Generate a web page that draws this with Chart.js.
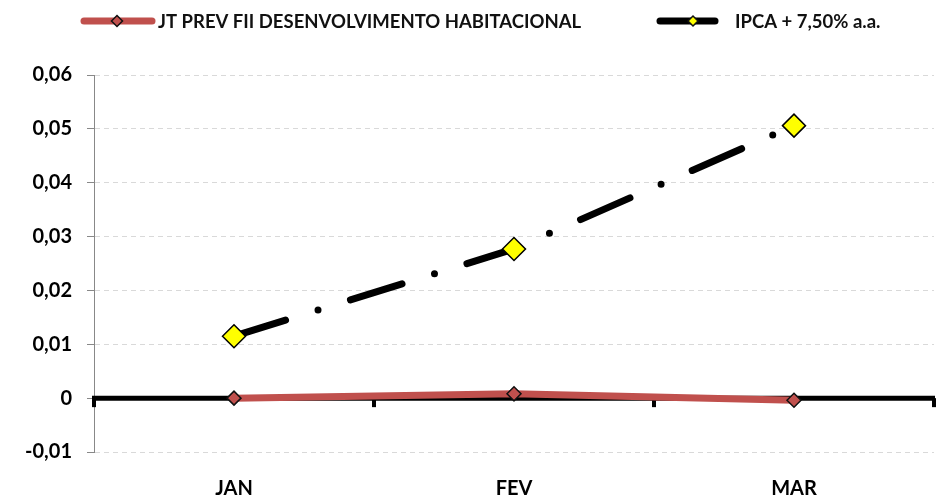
<!DOCTYPE html>
<html>
<head>
<meta charset="utf-8">
<script src="https://cdn.jsdelivr.net/npm/chart.js@4.4.0/dist/chart.umd.min.js"></script>
<style>
  html, body { margin: 0; padding: 0; background: #fff; }
  #wrap { width: 942px; height: 498px; }
</style>
</head>
<body>
<div id="wrap"><canvas id="grafico" width="942" height="498"></canvas></div>
<script>
// Rentabilidade mensal do fundo x benchmark
const meses = ['JAN', 'FEV', 'MAR'];
const nomeFundo = 'JT PREV FII DESENVOLVIMENTO HABITACIONAL';
const nomeIndice = 'IPCA + 7,50% a.a.';
const rentFundo = [0.0000, 0.0008, -0.0004];
const rentIndice = [0.0115, 0.0277, 0.0506];
const rotulosY = ['-0,01', '0', '0,01', '0,02', '0,03', '0,04', '0,05', '0,06'];

const fonte = 'Lato';
const corFundo = '#C0504D';

// Desenha um losango centrado em (x, y)
function losango(ctx, x, y, r, fill) {
    ctx.beginPath();
    ctx.moveTo(x - r, y);
    ctx.lineTo(x, y - r);
    ctx.lineTo(x + r, y);
    ctx.lineTo(x, y + r);
    ctx.closePath();
    ctx.fillStyle = fill;
    ctx.fill();
    ctx.lineWidth = 1.5;
    ctx.strokeStyle = '#111';
    ctx.stroke();
}

// Traço da legenda com pontas arredondadas
function traco(ctx, x1, x2, y, cor) {
    ctx.lineCap = 'round';
    ctx.lineWidth = 7;
    ctx.strokeStyle = cor;
    ctx.beginPath();
    ctx.moveTo(x1, y);
    ctx.lineTo(x2, y);
    ctx.stroke();
}

// Linha preta do eixo no zero, com marcas entre os meses
const eixoZero = {
    id: 'eixoZero',
    beforeDatasetsDraw(chart) {
        const { ctx, chartArea, scales } = chart;
        const y0 = scales.y.getPixelForValue(0);
        const passo = chartArea.width / meses.length;
        ctx.save();
        ctx.strokeStyle = '#000';
        ctx.lineWidth = 5;
        ctx.beginPath();
        ctx.moveTo(chartArea.left - 2, y0);
        ctx.lineTo(chartArea.right + 1, y0);
        ctx.stroke();
        ctx.lineWidth = 4;
        for (let i = 0; i <= meses.length; i++) {
            const x = chartArea.left + i * passo;
            ctx.beginPath();
            ctx.moveTo(x, y0);
            ctx.lineTo(x, y0 + 9);
            ctx.stroke();
        }
        ctx.restore();
    }
};

// Legenda no topo: linha + marcador + nome
const legenda = {
    id: 'legenda',
    afterDraw(chart) {
        const ctx = chart.ctx;
        const y = 21;
        ctx.save();

        traco(ctx, 84, 152, y, corFundo);
        losango(ctx, 117, y, 5.5, corFundo);

        traco(ctx, 660, 715, y, '#000');
        losango(ctx, 693, y, 5, '#FFFF00');

        ctx.fillStyle = '#111';
        ctx.font = 'bold 18.5px ' + fonte;
        ctx.textBaseline = 'middle';
        ctx.fillText(nomeFundo, 158, y + 1);
        ctx.fillText(nomeIndice, 735, y + 1);
        ctx.restore();
    }
};

const ctx = document.getElementById('grafico').getContext('2d');

new Chart(ctx, {
    type: 'line',
    data: {
        labels: meses,
        datasets: [
            {
                label: nomeFundo,
                data: rentFundo,
                borderColor: corFundo,
                borderWidth: 7,
                pointStyle: 'rectRot',
                pointRadius: 7,
                pointBackgroundColor: corFundo,
                pointBorderColor: '#111',
                pointBorderWidth: 1.5,
                tension: 0
            },
            {
                label: nomeIndice,
                data: rentIndice,
                borderColor: '#000',
                borderWidth: 7,
                borderDash: [54, 34, 0, 34],
                borderCapStyle: 'round',
                pointStyle: 'rectRot',
                pointRadius: 11.5,
                pointBackgroundColor: '#FFFF00',
                pointBorderColor: '#000',
                pointBorderWidth: 1.5,
                tension: 0
            }
        ]
    },
    options: {
        responsive: false,
        animation: false,
        devicePixelRatio: 1,
        layout: {
            autoPadding: false,
            padding: { top: 75, right: 8, left: 0, bottom: 0 }
        },
        plugins: {
            legend: { display: false },
            tooltip: { enabled: false }
        },
        scales: {
            x: {
                offset: true,
                grid: { display: false },
                border: { display: false },
                ticks: {
                    color: '#000',
                    padding: 17,
                    font: { family: fonte, weight: 'bold', size: 20 }
                },
                afterFit(scale) {
                    scale.height = 46;
                    scale.paddingLeft = 0;
                    scale.paddingRight = 0;
                }
            },
            y: {
                min: -0.01,
                max: 0.06,
                grid: {
                    color: '#D9D9D9',
                    lineWidth: 1,
                    tickColor: '#888',
                    tickLength: 7
                },
                border: { display: true, color: '#888', width: 1, dash: [5, 4] },
                ticks: {
                    stepSize: 0.01,
                    color: '#000',
                    padding: 15,
                    font: { family: fonte, weight: 'bold', size: 20 },
                    callback: (v, i) => rotulosY[i]
                },
                afterFit(scale) { scale.width = 94; }
            }
        }
    },
    plugins: [eixoZero, legenda]
});
</script>
</body>
</html>
